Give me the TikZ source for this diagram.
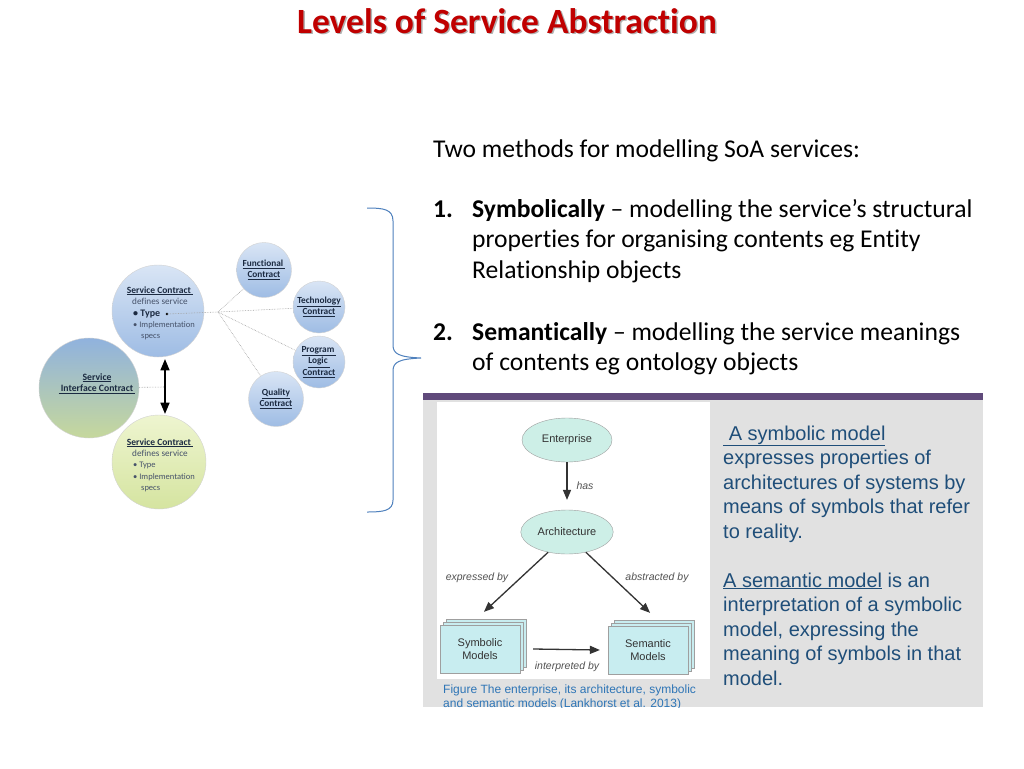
\documentclass[tikz,border=0pt]{standalone}
\usepackage{fontspec}
\setmainfont{Carlito}[Ligatures={TeX,NoCommon}]
\newfontfamily\arialfont{Liberation Sans}
\usepackage{xcolor}
\usepackage{tikz}
\usetikzlibrary{arrows,positioning,shapes.geometric}

\definecolor{titlered}{HTML}{C00000}
\definecolor{bracecol}{HTML}{4F81BD}
\definecolor{barpurple}{HTML}{604A7B}
\definecolor{panelgray}{HTML}{E1E1E1}
\definecolor{panelblue}{HTML}{1F4E79}
\definecolor{capblue}{HTML}{2E75B6}
\definecolor{mint}{HTML}{CDEFE7}
\definecolor{sheet}{HTML}{C8EDF0}
\definecolor{darkink}{HTML}{333333}
\definecolor{navy}{HTML}{1B2A41}
\definecolor{slate}{HTML}{46526A}
\definecolor{blueA}{HTML}{D9E5F5}
\definecolor{blueB}{HTML}{9EBCE4}
\definecolor{greenA}{HTML}{EEF5D0}
\definecolor{greenB}{HTML}{D5E4A0}
\definecolor{sicTop}{HTML}{90B2DE}
\definecolor{sicMid}{HTML}{B4CAC0}
\definecolor{sicBot}{HTML}{C6D89C}

\tikzset{
  slidetxt/.style={font=\fontsize{25.6}{30.7}\selectfont, anchor=base west, inner sep=0pt, align=left},
  ball/.style={circle, inner sep=0pt, draw=gray!35, line width=0.4pt},
  bluebig/.style={ball, minimum size=92pt, top color=blueA, bottom color=blueB},
  bluesmall/.style={ball, minimum size=55pt, top color=blueA, bottom color=blueB,
    font=\fontsize{9.3}{11.5}\selectfont\bfseries, text=navy, align=center},
  ctitle/.style={font=\fontsize{9.5}{11}\selectfont\bfseries, text=navy, inner sep=0pt},
  cbody/.style={font=\fontsize{9.2}{11}\selectfont, text=slate, inner sep=0pt},
  cbullet/.style={font=\fontsize{8.5}{11}\selectfont, text=slate, inner sep=0pt, anchor=base west},
  dotline/.style={gray!75, densely dotted, line width=0.6pt},
  ell/.style={ellipse, draw=gray!75, fill=mint, minimum width=90pt, minimum height=44pt,
    font=\arialfont\fontsize{11}{13}\selectfont, text=darkink},
  sheetbox/.style={rectangle, draw=gray!75, fill=sheet, minimum width=80pt, minimum height=48pt,
    align=center, font=\arialfont\fontsize{11}{13.5}\selectfont, text=darkink},
  sheetback/.style={draw=gray!75, fill=sheet},
  lbl/.style={font=\arialfont\itshape\fontsize{10.5}{12}\selectfont, text=darkink!85},
  arr/.style={->, draw=darkink, line width=1.3pt},
}

\begin{document}
\begin{tikzpicture}[x=1pt,y=-1pt,>=triangle 45]
\useasboundingbox[fill=white] (0,0) rectangle (1024,768);

% title
\node[font=\fontsize{35.5}{40}\selectfont\bfseries, text=black!30, anchor=base, inner sep=0pt]
  (titleshadow) at (508.5,35) {Levels of Service Abstraction};
\node[font=\fontsize{35.5}{40}\selectfont\bfseries, text=titlered, anchor=base, inner sep=0pt]
  (title) at (507,33.5) {Levels of Service Abstraction};

% contracts
\node[bluebig] (sc1) at (158,311) {};
\node[ball, minimum size=100pt, top color=sicTop, middle color=sicMid, bottom color=sicBot] (sic) at (89,388) {};
\node[ball, minimum size=94pt, top color=greenA, bottom color=greenB] (sc2) at (159,462) {};
\node[bluesmall] (func) at (264,270) {\underline{Functional }\\\underline{Contract}};
\node[bluesmall, minimum size=52pt] (tech) at (319,307) {\underline{Technology}\\\underline{Contract}};
\node[bluesmall, minimum size=52pt] (prog) at (319,362) {\underline{Program }\\\underline{Logic }\\\underline{Contract}};
\node[bluesmall] (qual) at (276,399) {\underline{Quality}\\\underline{Contract}};

\node[ctitle, anchor=base] (sc1title) at (160,293) {\underline{Service Contract }};
\node[cbody, anchor=base] (sc1def) at (160,304) {defines service};
\node[cbullet, font=\fontsize{10}{11}\selectfont\bfseries, text=navy] (sc1type) at (133,316.5) {\textbullet\ Type};
\node[cbullet] (sc1impl) at (133,327) {\textbullet\ Implementation};
\node[cbullet] (sc1specs) at (141,338) {specs};

\node[ctitle, anchor=base, align=center, font=\fontsize{9.7}{11.5}\selectfont\bfseries]
  (sictxt) at (97,391.5) {\underline{Service}\\\underline{ Interface Contract }};

\node[ctitle, anchor=base] (sc2title) at (160,445) {\underline{Service Contract }};
\node[cbody, anchor=base] (sc2def) at (160,456) {defines service};
\node[cbullet] (sc2type) at (133,467.5) {\textbullet\ Type};
\node[cbullet] (sc2impl) at (133,479) {\textbullet\ Implementation};
\node[cbullet] (sc2specs) at (141,490) {specs};

\coordinate (typedot) at (167,314);
\coordinate (hub) at (218,312);
\coordinate (mid) at (165,387);
\fill[black] (typedot) circle (1.3);
\draw[dotline] (typedot) -- (hub);
\foreach \c in {func,tech,prog,qual}
  \draw[dotline] (hub) -- (\c);
\draw[dotline] (sic) -- (mid);
\draw[<->, black, line width=1.6pt] ([xshift=7pt,yshift=-2pt]sc1.south) -- ([xshift=6pt,yshift=1pt]sc2.north);

% brace
\draw[bracecol, line width=1pt] (367,208) .. controls (383,208) and (393,209) .. (393,221)
  -- (393,345) .. controls (393,354) and (399,357) .. (421,358)
  .. controls (399,359) and (393,362) .. (393,371)
  -- (393,500) .. controls (393,511) and (383,512) .. (367,512);

% slide text
\node[slidetxt] (intro) at (433,157) {Two methods for modelling SoA services:};
\node[slidetxt] (num1) at (433,217) {\textbf{1.}};
\node[slidetxt] (item1) at (472,278.4) {\textbf{Symbolically} -- modelling the service’s structural\\
  properties for organising contents eg Entity\\Relationship objects};
\node[slidetxt] (num2) at (433,340) {\textbf{2.}};
\node[slidetxt] (item2) at (472,370.7) {\textbf{Semantically} -- modelling the service meanings\\
  of contents eg ontology objects};

% panel
\fill[panelgray] (423,399) rectangle (983,707);
\fill[barpurple] (423,393) rectangle (983,399.5);
\fill[white] (437,402) rectangle (710,679);

\node[ell] (ent) at (567,440) {Enterprise};
\node[ell] (arch) at (567,532) {Architecture};
\coordinate (symc) at (480,649);
\coordinate (semc) at (648,650);
\foreach \d in {6,3} {
  \draw[sheetback] ([shift={(\d-40,-\d-24)}]symc) rectangle ([shift={(\d+40,-\d+24)}]symc);
  \draw[sheetback] ([shift={(\d-40,-\d-24)}]semc) rectangle ([shift={(\d+40,-\d+24)}]semc);
}
\node[sheetbox] (sym) at (symc) {Symbolic\\Models};
\node[sheetbox] (sem) at (semc) {Semantic\\Models};

\draw[arr] (ent) -- ([yshift=10pt]arch.north);
\draw[arr] (arch.227) -- ([xshift=4pt,yshift=13pt]sym.north);
\draw[arr] (arch.313) -- ([xshift=2pt,yshift=13pt]sem.north);
\draw[arr] ([xshift=13pt]sym.east) -- ([xshift=-8pt]sem.west);
\node[lbl, anchor=west] (haslbl) at (573,486) {has};
\node[lbl] (exlbl) at (477,578) {expressed by};
\node[lbl] (ablbl) at (657,578) {abstracted by};
\node[lbl] (inlbl) at (567,667) {interpreted by};

\begin{scope}
\clip (423,399) rectangle (983,707);
\node[font=\arialfont\fontsize{12}{14.5}\selectfont, text=capblue, anchor=base west, inner sep=0pt, align=left]
  (caption) at (443,707.5) {Figure The enterprise, its architecture, symbolic\\and semantic models (Lankhorst et al. 2013)};
\end{scope}

\node[font=\arialfont\fontsize{20}{24.5}\selectfont, text=panelblue, anchor=base west, inner sep=0pt, align=left]
  (defs) at (723,685) {\underline{\ A symbolic model}\\expresses properties of\\architectures of systems by\\
  means of symbols that refer\\to reality.\\[24.5pt]\underline{A semantic model} is an\\interpretation of a symbolic\\
  model, expressing the\\meaning of symbols in that\\model.};
\end{tikzpicture}
\end{document}
